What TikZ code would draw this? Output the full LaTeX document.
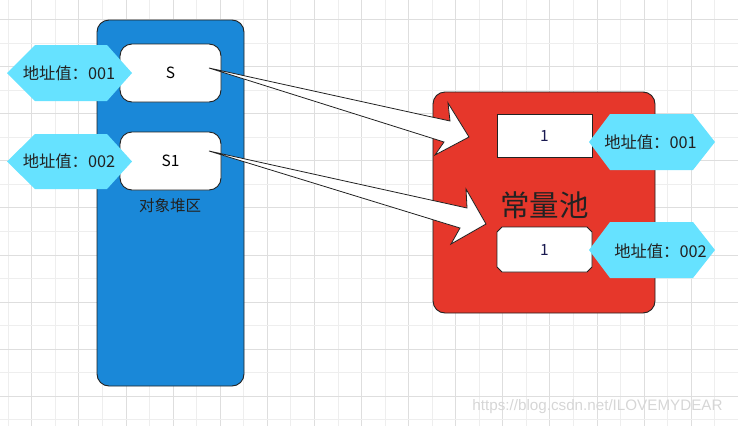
\documentclass[tikz,border=0pt]{standalone}
\usepackage{fontspec}
\setmainfont{Noto Sans CJK SC}
\newfontfamily\wmfont{Liberation Sans}
\usetikzlibrary{shapes.misc}
\definecolor{heapblue}{RGB}{26,136,216}
\definecolor{poolred}{RGB}{230,55,43}
\definecolor{hexcyan}{RGB}{102,226,255}
\definecolor{edge}{RGB}{34,34,34}
\definecolor{gridA}{RGB}{222,222,222}
\definecolor{gridB}{RGB}{238,238,238}
\definecolor{numblue}{RGB}{25,25,80}
\definecolor{wm}{RGB}{214,214,214}
\tikzset{
  region/.style={draw=edge, line width=0.9pt, rounded corners=12pt, inner sep=0pt},
  refbox/.style={draw=edge, line width=0.9pt, fill=white, rounded corners=12pt, minimum width=101pt, minimum height=58pt, inner sep=0pt, font=\fontsize{15.5}{18}\selectfont},
  valbox/.style={draw=edge, line width=0.9pt, fill=white, minimum width=95pt, minimum height=43pt, inner sep=0pt, text=numblue, font=\fontsize{15.5}{18}\selectfont},
  addrtext/.style={inner sep=0pt, font=\fontsize{16.3}{18}\selectfont, text=edge},
  hexfill/.style={fill=hexcyan},
  bigarrow/.style={draw=edge, line width=0.8pt, fill=white, line join=miter},
}
\begin{document}
\begin{tikzpicture}[x=1pt,y=-1pt]
\useasboundingbox (0,0) rectangle (738,426);
% grid
\foreach \k in {0,...,31}{
  \pgfmathsetmacro{\gx}{8.3+23.55*\k}
  \pgfmathtruncatemacro{\odd}{mod(\k,2)}
  \ifnum\odd=1 \draw[gridA, line width=1pt] (\gx,0) -- (\gx,426);
  \else \draw[gridB, line width=1pt] (\gx,0) -- (\gx,426); \fi
}
\foreach \k in {0,...,17}{
  \pgfmathsetmacro{\gy}{19.5+23.55*\k}
  \pgfmathtruncatemacro{\odd}{mod(\k,2)}
  \ifnum\odd=0 \draw[gridA, line width=1pt] (0,\gy) -- (738,\gy);
  \else \draw[gridB, line width=1pt] (0,\gy) -- (738,\gy); \fi
}
% heap region
\node[region, fill=heapblue, minimum width=147pt, minimum height=366pt] (heap) at (170.5,203) {};
\node[refbox] (s) at (170.5,73) {S};
\node[refbox] (s1) at (170.5,161) {S1};
\node[inner sep=0pt, font=\fontsize{15.5}{18}\selectfont, text=edge] (heaplabel) at (170,206) {对象堆区};
% left hexagons
\fill[hexfill] (7,73) -- (35,45) -- (107,45) -- (132,73) -- (107,101) -- (35,101) -- cycle;
\node[addrtext] (a1) at (69,73) {地址值：001};
\fill[hexfill] (7,161.5) -- (35,134) -- (107,134) -- (132,161.5) -- (107,189) -- (35,189) -- cycle;
\node[addrtext] (a2) at (69,161.5) {地址值：002};
% constant pool
\node[region, fill=poolred, minimum width=222pt, minimum height=221pt] (pool) at (544,202.5) {};
\node[valbox] (v1) at (544.5,135.5) {1};
\node[valbox, chamfered rectangle, chamfered rectangle xsep=2.5pt, chamfered rectangle ysep=2.5pt, minimum height=45pt] (v2) at (544.5,249.5) {1};
\node[inner sep=0pt, font=\fontsize{29.5}{32}\selectfont, text=edge] (poollabel) at (544.5,205) {常量池};
% right hexagons
\fill[hexfill] (589,142) -- (610,114) -- (693,114) -- (715,142) -- (693,170) -- (610,170) -- cycle;
\node[addrtext] (a3) at (650.5,142) {地址值：001};
\fill[hexfill] (589,250) -- (610,222) -- (693,222) -- (715,250) -- (693,278) -- (610,278) -- cycle;
\node[addrtext] (a4) at (660.5,251) {地址值：002};
% arrows
\coordinate (p1) at (209,68);
\coordinate (p2) at (209,151);
\draw[bigarrow] (p1) -- (450,121) -- (448,103) -- (469,137) -- (435,155) -- (444,142) -- cycle;
\draw[bigarrow] (p2) -- (467,208) -- (466,189) -- (486,224) -- (451,244) -- (460,228) -- cycle;
% watermark
\node[inner sep=0pt, text=wm, font=\wmfont\fontsize{15.2}{17}\selectfont] (wmark) at (597.5,407) {https://blog.csdn.net/ILOVEMYDEAR};
\end{tikzpicture}
\end{document}
